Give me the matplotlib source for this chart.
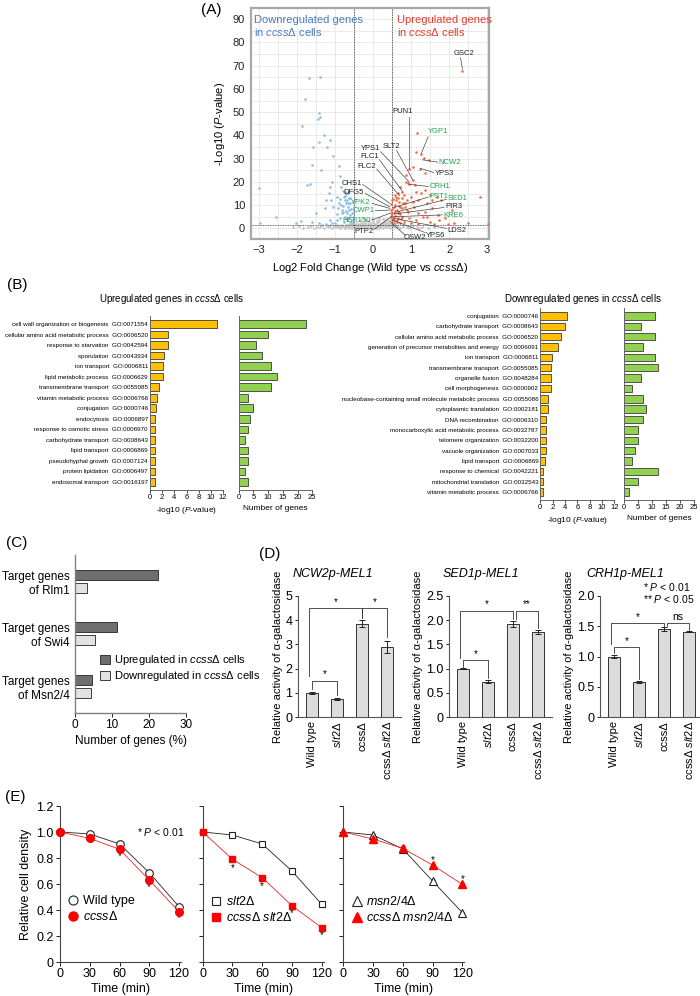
import numpy as np
import matplotlib
matplotlib.use("Agg")
import matplotlib.pyplot as plt
from matplotlib import font_manager as fm
from matplotlib.lines import Line2D
from matplotlib.patches import Patch


def tem_fonte(nome):
    try:
        fm.findfont(nome, fallback_to_default=False)
        return True
    except Exception:
        return False


FONTE = "Liberation Sans Narrow" if tem_fonte("Liberation Sans Narrow") else "Liberation Sans"
plt.rcParams["font.family"] = [FONTE, "Liberation Sans", "DejaVu Sans"]
plt.rcParams["mathtext.fontset"] = "custom"
plt.rcParams["mathtext.it"] = FONTE + ":italic"
plt.rcParams["mathtext.rm"] = FONTE

# ---------------- dados (A) volcano ----------------
down_x = [-3.01, -2.98, -2.56, -2.02, -1.90, -1.87, -1.79, -1.69, -1.40, -1.43, -1.39, -1.46,
          -1.30, -1.57, -1.43, -1.20, -1.13, -1.04, -1.61, -1.37, -1.73, -1.65, -1.07, -0.89,
          -0.87, -1.13, -1.23, -1.04, -1.49, -1.61, -1.13, -0.95, -0.83, -0.80, -0.77, -0.75,
          -0.71, -0.68, -0.65, -0.63, -0.60, -0.56, -0.54, -0.51, -0.52, -0.89, -0.92, -0.81,
          -0.74, -0.69, -0.62, -0.57, -0.54, -0.77, -0.87, -0.95, -1.01, -1.07, -1.25, -1.43,
          -0.71, -0.80, -0.87, -0.96, -0.65, -0.75, -0.60, -0.54, -0.68, -0.61, -0.82, -0.73,
          -1.15, -1.10, -1.27, -0.58, -0.66, -0.72, -0.78, -0.85, -0.53, -0.63, -0.70, -0.59]
down_y = [17.2, 2.2, 5.0, 2.2, 3.3, 44.0, 55.5, 64.6, 65.3, 49.8, 48.1, 47.2,
          40.2, 35.2, 37.3, 35.2, 38.0, 31.1, 27.3, 25.1, 18.7, 18.9, 20.1, 26.8,
          22.5, 17.9, 12.2, 9.3, 6.5, 2.9, 3.6, 6.2, 17.9, 16.2, 13.6, 12.2,
          10.8, 12.2, 9.3, 7.9, 10.8, 6.5, 5.0, 9.3, 6.5, 10.8, 8.6, 6.5,
          5.0, 3.6, 4.3, 2.9, 2.4, 2.9, 4.3, 3.6, 2.2, 2.4, 1.9, 2.2,
          7.6, 9.6, 12.5, 13.6, 15.1, 15.8, 12.9, 11.5, 6.5, 5.7, 7.9, 13.9,
          15.1, 12.2, 8.6, 8.2, 11.0, 4.6, 7.0, 9.9, 3.8, 13.2, 14.6, 2.0]
up_x = [2.35, 1.15, 1.13, 1.27, 1.35, 1.46, 1.23, 1.37, 0.95, 1.04, 0.86, 0.87, 0.93, 0.95,
        1.04, 1.11, 0.71, 0.77, 0.65, 0.60, 2.80, 2.50, 3.02, 1.67, 1.79, 2.08, 1.55, 1.70,
        1.43, 1.25, 1.19, 1.07, 0.89, 0.83, 0.71, 0.65, 0.54, 0.48, 0.51, 0.56, 0.63, 0.77,
        0.95, 1.13, 1.31, 1.49, 1.61, 1.96, 2.14, 0.60, 0.68, 0.75, 0.81, 1.01, 1.13, 1.37,
        1.49, 1.55, 0.89, 1.05, 1.19, 1.37, 0.46, 0.46, 0.49, 0.54, 0.58, 0.65, 0.70, 0.82,
        1.01, 1.19, 1.43, 1.73, 1.90, 0.47, 0.50, 0.52, 0.55, 0.57, 0.59, 0.62, 0.64, 0.67,
        0.69, 0.72, 0.74, 0.76, 0.79, 0.48, 0.53, 0.58, 0.66, 0.84, 0.92]
up_y = [67.9, 41.2, 33.0, 32.0, 30.1, 29.4, 25.4, 23.7, 25.4, 26.5, 23.0, 20.1, 19.4, 18.9,
        20.8, 18.7, 17.9, 15.8, 15.1, 12.2, 13.3, 2.2, 2.0, 13.6, 12.2, 7.9, 8.6, 5.7,
        10.8, 15.1, 12.2, 9.3, 7.9, 10.8, 9.3, 6.5, 9.3, 5.0, 12.2, 3.6, 2.9, 5.0,
        4.3, 3.6, 5.0, 2.9, 1.9, 1.9, 2.4, 13.6, 11.5, 12.9, 14.3, 13.6, 15.8, 16.5,
        14.3, 12.2, 12.2, 11.5, 6.5, 7.2, 7.9, 6.5, 3.6, 2.2, 7.6, 4.3, 2.2, 2.9,
        2.2, 1.9, 5.0, 3.6, 4.3, 5.5, 8.5, 4.6, 6.8, 10.2, 5.2, 8.1, 3.4, 7.0,
        9.8, 6.1, 4.0, 8.8, 11.0, 10.5, 12.8, 14.5, 13.0, 9.0, 6.9]
ns_x = [-2.10, -1.95, -1.85, -1.70, -1.62, -1.55, -1.48, -1.40, -1.35, -1.28, -1.22, -1.17,
        -1.12, -1.08, -1.03, -0.98, -0.94, -0.90, -0.86, -0.83, -0.80, -0.77, -0.74, -0.71,
        -0.68, -0.65, -0.62, -0.60, -0.57, -0.55, -0.52, -0.50, -0.48, -0.45, -0.43, -0.40,
        -0.38, -0.35, -0.33, -0.30, -0.28, -0.25, -0.23, -0.20, -0.18, -0.15, -0.13, -0.10,
        -0.08, -0.05, -0.03, 0.00, 0.02, 0.05, 0.07, 0.10, 0.12, 0.15, 0.17, 0.20, 0.22, 0.25,
        0.27, 0.30, 0.32, 0.35, 0.37, 0.40, 0.42, 0.45, 0.48, 0.52, 0.56, 0.60, 0.66, 0.72,
        0.80, 0.88, 0.95, 1.05, 1.15, 1.30, 1.45, 1.60, -0.30, -0.10, 0.10, 0.30, -0.20, 0.20,
        0.00, 0.40, -0.40, -0.25, 0.15, 0.35,
        -0.46, -0.41, -0.36, -0.31, -0.26, -0.21, -0.16, -0.11, -0.06, -0.01, 0.04, 0.09,
        0.14, 0.19, 0.24, 0.29, 0.34, 0.39, 0.44, -0.44, -0.34, -0.24, -0.14, -0.04, 0.06,
        0.16, 0.26, 0.36, 0.43, -0.39, -0.29, -0.19, -0.09, 0.01, 0.11, 0.21, 0.31, 0.41,
        -0.70, -0.92, -1.15, -1.38, -0.63, -0.84, -1.02, -0.58, -0.75, 0.62, 0.78, 0.98, 1.22]
ns_y = [0.4, 0.9, 0.3, 0.6, 1.1, 0.2, 0.8, 0.5, 1.3, 0.3, 0.9, 0.6,
        1.5, 0.2, 1.0, 0.5, 1.3, 0.8, 0.3, 1.6, 1.1, 0.6, 0.2, 1.4,
        0.9, 0.4, 1.7, 1.2, 0.7, 0.25, 1.5, 1.0, 0.5, 1.8, 0.15, 1.3,
        0.8, 0.35, 1.6, 1.1, 0.6, 0.2, 1.9, 1.4, 0.9, 0.45, 1.7, 1.2,
        0.7, 0.25, 1.5, 1.0, 0.5, 1.8, 0.15, 1.3, 0.8, 0.35, 1.6, 1.1, 0.6, 0.2,
        1.9, 1.4, 0.9, 0.45, 1.7, 1.2, 0.7, 0.3, 1.5, 1.0, 0.5, 1.3, 0.8, 0.3,
        1.1, 0.6, 0.2, 0.9, 0.4, 0.7, 0.3, 0.5, 2.5, 3.0, 2.7, 3.2, 2.2, 2.3,
        3.5, 2.8, 2.0, 4.1, 4.4, 3.9,
        0.6, 1.4, 0.2, 2.1, 0.9, 2.6, 0.4, 1.7, 2.4, 0.7, 1.9, 0.3,
        2.9, 0.8, 1.6, 2.2, 0.5, 1.1, 2.5, 3.1, 3.6, 1.2, 3.3, 4.6, 2.0,
        3.8, 4.2, 2.7, 1.4, 0.9, 2.0, 3.4, 1.0, 2.6, 3.0, 1.5, 2.4, 3.7,
        0.8, 1.2, 0.4, 1.0, 0.2, 0.6, 1.1, 0.9, 0.35, 0.4, 0.9, 0.6, 0.3]

# rotulos dos genes: nome, texto (x, y, ha), linha (x0, y0) -> (x1, y1)
genes = ["GSC2", "PUN1", "YGP1", "YPS1", "SLT2", "FLC1", "FLC2", "NCW2", "YPS3", "CRH1",
         "PST1", "SED1", "PIR3", "KRE6", "LDS2", "YPS6", "OSW2", "PTP2", "HSP150", "CWP1",
         "YPK2", "DFG5", "CHS1"]
genes_verdes = ["YGP1", "NCW2", "CRH1", "PST1", "SED1", "KRE6", "HSP150", "CWP1", "YPK2"]
rot_txt = [(2.12, 75.3, "left"), (0.78, 50.5, "center"), (1.43, 41.6, "left"),
           (0.18, 34.4, "right"), (0.48, 35.2, "center"), (0.15, 30.8, "right"),
           (0.08, 26.5, "right"), (1.73, 28.3, "left"), (1.63, 23.4, "left"),
           (1.49, 17.9, "left"), (1.49, 13.9, "left"), (1.96, 12.9, "left"),
           (1.90, 9.3, "left"), (1.85, 5.7, "left"), (1.96, -0.7, "left"),
           (1.39, -2.9, "left"), (0.81, -3.9, "left"), (0.00, -1.4, "right"),
           (-0.06, 3.3, "right"), (0.04, 7.6, "right"), (-0.06, 11.2, "right"),
           (-0.24, 15.4, "right"), (-0.30, 19.4, "right")]
rot_lin = [(2.30, 73.5, 2.35, 68.5), (0.95, 48.0, 0.95, 25.6), (1.45, 39.5, 1.27, 32.3),
           (0.20, 33.0, 0.95, 20.0), (0.62, 33.5, 1.04, 21.0), (0.17, 29.5, 0.77, 16.0),
           (0.10, 25.5, 0.70, 14.0), (1.70, 28.5, 1.30, 29.5), (1.60, 24.0, 1.25, 25.8),
           (1.46, 18.0, 0.95, 19.0), (1.46, 13.5, 0.55, 9.0), (1.93, 12.5, 0.60, 7.0),
           (1.87, 9.0, 0.55, 6.2), (1.82, 5.8, 0.52, 5.0), (1.93, 0.0, 0.55, 4.3),
           (1.37, -1.8, 0.50, 3.6), (0.85, -3.0, 0.45, 2.9), (0.02, -0.5, 0.48, 5.0),
           (-0.03, 3.6, 0.44, 6.5), (0.06, 7.6, 0.44, 7.9), (-0.03, 10.8, 0.44, 8.6),
           (-0.20, 15.0, 0.44, 9.3), (-0.27, 18.9, 0.44, 10.8)]

# ---------------- dados (B) GO ----------------
go_up_termos = ["cell wall organization or biogenesis", "cellular amino acid metabolic process",
                "response to starvation", "sporulation", "ion transport", "lipid metabolic process",
                "transmembrane transport", "vitamin metabolic process", "conjugation", "endocytosis",
                "response to osmotic stress", "carbohydrate transport", "lipid transport",
                "pseudohyphal growth", "protein lipidation", "endosomal transport"]
go_up_ids = ["GO:0071554", "GO:0006520", "GO:0042594", "GO:0043934", "GO:0006811", "GO:0006629",
             "GO:0055085", "GO:0006766", "GO:0000746", "GO:0006897", "GO:0006970", "GO:0008643",
             "GO:0006869", "GO:0007124", "GO:0006497", "GO:0016197"]
go_up_p = [11.0, 2.9, 2.9, 2.3, 2.1, 2.1, 1.5, 1.1, 1.0, 0.9, 0.9, 0.9, 0.9, 0.8, 0.75, 0.75]
go_up_n = [23, 10, 6, 8, 11, 13, 11, 3, 5, 4, 3, 2, 3, 3, 2, 3]

go_down_termos = ["conjugation", "carbohydrate transport", "cellular amino acid metabolic process",
                  "generation of precursor metabolites and energy", "ion transport",
                  "transmembrane transport", "organelle fusion", "cell morphogenesis",
                  "nucleobase-containing small molecule metabolic process", "cytoplasmic translation",
                  "DNA recombination", "monocarboxylic acid metabolic process", "telomere organization",
                  "vacuole organization", "lipid transport", "response to chemical",
                  "mitochondrial translation", "vitamin metabolic process"]
go_down_ids = ["GO:0000746", "GO:0008643", "GO:0006520", "GO:0006091", "GO:0006811", "GO:0055085",
               "GO:0048284", "GO:0000902", "GO:0055086", "GO:0002181", "GO:0006310", "GO:0032787",
               "GO:0032200", "GO:0007033", "GO:0006869", "GO:0042221", "GO:0032543", "GO:0006766"]
go_down_p = [4.3, 4.0, 3.3, 2.8, 1.9, 1.8, 1.7, 1.7, 1.2, 1.2, 0.95, 0.9, 0.85, 0.85, 0.7, 0.5, 0.5, 0.45]
go_down_n = [11, 6, 11, 7, 11, 12, 6, 3, 7, 8, 7, 5, 5, 4, 3, 12, 5, 2]

# ---------------- dados (C) ----------------
alvos = ["Target genes\nof Rlm1", "Target genes\nof Swi4", "Target genes\nof Msn2/4"]
alvos_up = [22.5, 11.2, 4.5]
alvos_down = [3.2, 5.4, 4.3]

# ---------------- dados (D) ----------------
cepas = ["Wild type", "$\\mathit{slt2}$Δ", "ccssΔ", "ccssΔ $\\mathit{slt2}$Δ"]
reporteres = ["NCW2p-MEL1", "SED1p-MEL1", "CRH1p-MEL1"]
mel1_media = [[1.0, 0.75, 3.85, 2.88], [1.0, 0.73, 1.92, 1.75], [1.0, 0.58, 1.45, 1.41]]
mel1_erro = [[0.04, 0.03, 0.14, 0.25], [0.01, 0.03, 0.06, 0.04], [0.03, 0.02, 0.03, 0.01]]
mel1_ylim = [5.0, 2.5, 2.0]
mel1_yticks = [[0, 1, 2, 3, 4, 5], [0, 0.5, 1.0, 1.5, 2.0, 2.5], [0, 0.5, 1.0, 1.5, 2.0]]
mel1_yrot = [["0", "1", "2", "3", "4", "5"], ["0", "0.5", "1.0", "1.5", "2.0", "2.5"],
             ["0", "0.5", "1.0", "1.5", "2.0"]]
# colchetes: x1, x2, altura, base esquerda, base direita, texto
colchetes = [
    [(0, 1, 1.5, 1.15, 0.9, "*"), (-0.12, 2, 4.5, 1.7, 4.1, "*"), (2, 3, 4.5, 4.1, 3.3, "*")],
    [(0, 1, 1.17, 1.03, 0.8, "*"), (-0.12, 2, 2.2, 1.22, 2.03, "*"), (2.12, 3, 2.2, 2.03, 1.83, "**")],
    [(0, 1, 1.15, 1.05, 0.63, "*"), (-0.12, 2, 1.55, 1.2, 1.5, "*"), (2.12, 3, 1.55, 1.5, 1.44, "ns")],
]

# ---------------- dados (E) ----------------
tempo = [0, 30, 60, 90, 120]
wt = [1.0, 0.985, 0.908, 0.687, 0.426]
ccss = [1.0, 0.951, 0.867, 0.631, 0.387]
slt2 = [1.0, 0.977, 0.908, 0.700, 0.444]
ccss_slt2 = [1.0, 0.790, 0.649, 0.433, 0.264]
msn24 = [1.0, 0.977, 0.870, 0.623, 0.380]
ccss_msn24 = [1.0, 0.946, 0.874, 0.746, 0.597]
wt_err = [0, 0.005, 0.008, 0.01, 0.012]
ccss_err = [0, 0.006, 0.01, 0.01, 0.01]
slt2_err = [0, 0.006, 0.008, 0.02, 0.02]
ccss_slt2_err = [0, 0.008, 0.015, 0.008, 0.01]
msn24_err = [0, 0.008, 0.01, 0.008, 0.006]
ccss_msn24_err = [0, 0.006, 0.015, 0.01, 0.008]
estrelas_1 = [(60, 0.815), (90, 0.574), (120, 0.336)]
estrelas_2 = [(30, 0.726), (60, 0.587), (90, 0.380), (120, 0.208)]
estrelas_3 = [(90, 0.785), (120, 0.636)]

# ---------------- figura ----------------
W, H = 700, 996
fig = plt.figure(figsize=(W / 100, H / 100), dpi=100)
fig.patch.set_facecolor("white")


def eixo(l, t, r, b):
    return fig.add_axes([l / W, 1 - b / H, (r - l) / W, (b - t) / H])


def texto(x, y, s, **kw):
    kw.setdefault("va", "center")
    return fig.text(x / W, 1 - y / H, s, **kw)


def spines_lb(ax, cor="#555555", lw=0.8):
    ax.spines["top"].set_visible(False)
    ax.spines["right"].set_visible(False)
    ax.spines["left"].set_color(cor)
    ax.spines["bottom"].set_color(cor)
    ax.spines["left"].set_linewidth(lw)
    ax.spines["bottom"].set_linewidth(lw)


# --- (A) ---
axA = eixo(250.6, 8.3, 489.4, 239.3)
axA.set_xlim(-3.22, 3.06)
axA.set_ylim(-4.7, 94.7)
axA.set_xticks(range(-3, 4))
axA.set_yticks(range(0, 100, 10))
axA.set_xticks(np.arange(-3, 3.01, 0.5), minor=True)
axA.set_yticks(range(0, 95, 5), minor=True)
axA.grid(True, which="both", color="#e6e6e6", lw=0.6)
axA.set_axisbelow(True)
axA.tick_params(which="both", length=0, labelsize=8, pad=4, colors="#222222")
for sp in axA.spines.values():
    sp.set_color("#a8a8a8")
    sp.set_linewidth(1.6)
axA.scatter(ns_x, ns_y, s=4, c="#c9c9c9", lw=0, zorder=2)
axA.scatter(down_x, down_y, s=3.5, c="#8cbde3", lw=0, zorder=3)
axA.scatter(up_x, up_y, s=3.5, c="#f06c4a", lw=0, zorder=3)
axA.axvline(-0.5, ls=(0, (1, 1)), c="#333333", lw=0.6, zorder=2)
axA.axvline(0.5, ls=(0, (1, 1)), c="#333333", lw=0.6, zorder=2)
axA.axhline(1.3, ls=(0, (1, 1)), c="#333333", lw=0.6, zorder=2)
for nome, (tx, ty, ha), (x0, y0, x1, y1) in zip(genes, rot_txt, rot_lin):
    cor = "#1fa34a" if nome in genes_verdes else "#222222"
    axA.plot([x0, x1], [y0, y1], c="#333333", lw=0.45, zorder=4)
    axA.text(tx, ty, nome, fontsize=5.5, color=cor, ha=ha, va="center", zorder=5)
axA.text(-3.12, 92, "Downregulated genes\nin $\\mathit{ccss}$Δ cells", color="#4a7cc0",
         fontsize=8, va="top", ha="left", linespacing=1.1)
axA.text(0.63, 92, "Upregulated genes\nin $\\mathit{ccss}$Δ cells", color="#e8392b",
         fontsize=8, va="top", ha="left", linespacing=1.1)
texto(370, 268, "Log2 Fold Change (Wild type vs $\\mathit{ccss}$Δ)", ha="center", fontsize=8)
texto(220, 124, "-Log10 ($\\mathit{P}$-value)", ha="center", rotation=90, fontsize=8)
texto(211, 10, "(A)", ha="center", fontsize=11)


# --- (B) ---
def grafico_go(l_p, r_p, l_n, r_n, topo, base, termos, ids, pv, ng):
    n = len(termos)
    ax_p = eixo(l_p, topo, r_p, base)
    ax_n = eixo(l_n, topo, r_n, base)
    pos = np.arange(n)
    ax_p.barh(pos, pv, height=0.72, color="#ffc000", edgecolor="#3a3a3a", lw=0.6)
    ax_n.barh(pos, ng, height=0.72, color="#92d050", edgecolor="#3a3a3a", lw=0.6)
    for ax in (ax_p, ax_n):
        ax.set_ylim(n - 1 + 0.76, -0.76)
        spines_lb(ax, "#666666", 0.7)
        ax.tick_params(axis="x", labelsize=5.5, length=2, width=0.5, pad=1)
        ax.tick_params(axis="y", length=0, pad=1.5)
    ax_p.set_xlim(0, 12)
    ax_p.set_xticks(range(0, 13, 2))
    ax_n.set_xlim(0, 25)
    ax_n.set_xticks(range(0, 26, 5))
    ax_p.set_yticks(pos)
    ax_p.set_yticklabels([t + "  " + g for t, g in zip(termos, ids)], fontsize=4.5)
    ax_n.set_yticks([])
    ax_p.set_xlabel("-log10 ($\\mathit{P}$-value)", fontsize=6, labelpad=3)
    ax_n.set_xlabel("Number of genes", fontsize=6, labelpad=3)


grafico_go(150, 223, 238.7, 312.3, 316, 490, go_up_termos, go_up_ids, go_up_p, go_up_n)
grafico_go(540.3, 614.3, 623.7, 694.3, 308, 500, go_down_termos, go_down_ids, go_down_p, go_down_n)
texto(172, 299, "Upregulated genes in $\\mathit{ccss}$Δ cells", ha="center", fontsize=7)
texto(583, 299, "Downregulated genes in $\\mathit{ccss}$Δ cells", ha="center", fontsize=7)
texto(17, 285, "(B)", ha="center", fontsize=11)

# --- (C) ---
axC = eixo(75.3, 555, 185.8, 712.7)
posC = np.arange(len(alvos))
axC.barh(posC - 0.125, alvos_up, height=0.19, color="#6e6e6e", edgecolor="#222222", lw=0.6)
axC.barh(posC + 0.125, alvos_down, height=0.19, color="#e2e2e2", edgecolor="#222222", lw=0.6)
axC.set_ylim(2.5, -0.5)
axC.set_xlim(0, 30)
axC.set_xticks([0, 10, 20, 30])
axC.set_yticks(posC)
axC.set_yticklabels(alvos, fontsize=8.5)
for lb in axC.get_yticklabels():
    lb.set_multialignment("right")
axC.tick_params(axis="y", length=0, pad=4)
axC.tick_params(axis="x", labelsize=8.5, length=3, width=0.6, pad=1.5)
spines_lb(axC, "#808080", 1.0)
axC.set_xlabel("Number of genes (%)", fontsize=8.5, labelpad=3)
fig.legend(handles=[Patch(facecolor="#6e6e6e", edgecolor="#222222", lw=0.6,
                          label="Upregulated in $\\mathit{ccss}$Δ cells"),
                    Patch(facecolor="#e2e2e2", edgecolor="#222222", lw=0.6,
                          label="Downregulated in $\\mathit{ccss}$Δ cells")],
           loc="upper left", bbox_to_anchor=(100 / W, 1 - 653 / H), frameon=False, fontsize=8,
           handlelength=0.9, handleheight=0.9, handletextpad=0.4, labelspacing=0.2,
           borderpad=0, borderaxespad=0)
texto(17, 543, "(C)", ha="center", fontsize=11)

# --- (D) ---
esq_D = [298, 449, 600]
centros_tit = [333, 481, 625]
for k in range(3):
    ax = eixo(esq_D[k], 596, esq_D[k] + 103, 717)
    xs = np.arange(len(cepas))
    ax.bar(xs, mel1_media[k], width=0.45, color="#dcdcdc", edgecolor="#333333", lw=0.7,
           yerr=mel1_erro[k], error_kw=dict(ecolor="#222222", elinewidth=0.7, capsize=2, capthick=0.7))
    ax.set_xlim(-0.56, 3.56)
    ax.set_ylim(0, mel1_ylim[k])
    ax.set_yticks(mel1_yticks[k])
    ax.set_yticklabels(mel1_yrot[k])
    ax.set_xticks(xs)
    ax.set_xticklabels(cepas, rotation=90, fontsize=8)
    ax.tick_params(axis="x", length=0, pad=3)
    ax.tick_params(axis="y", labelsize=9, length=2.5, width=0.6, pad=1.5)
    spines_lb(ax, "#555555", 0.8)
    ax.set_ylabel("Relative activity of α-galactosidase", fontsize=8, labelpad=2)
    for x1, x2, h, b1, b2, s in colchetes[k]:
        ax.plot([x1, x1, x2, x2], [b1, h, h, b2], c="#333333", lw=0.6)
        ax.text((x1 + x2) / 2, h + mel1_ylim[k] * 0.01, s, ha="center", va="bottom",
                fontsize=7 if s != "ns" else 7.5)
    texto(centros_tit[k], 574, reporteres[k], ha="center", fontsize=9, fontstyle="italic")
texto(643, 587, "* $\\mathit{P}$ < 0.01", ha="left", fontsize=7.5)
texto(643, 599, "** $\\mathit{P}$ < 0.05", ha="left", fontsize=7.5)
texto(270, 554, "(D)", ha="center", fontsize=11)

# --- (E) ---
esq_E = [60, 202.7, 343.3]
series_E = [
    (wt, wt_err, ccss, ccss_err, "o", "Wild type", "$\\mathit{ccss}$Δ", estrelas_1),
    (slt2, slt2_err, ccss_slt2, ccss_slt2_err, "s", "$\\mathit{slt2}$Δ",
     "$\\mathit{ccss}$Δ $\\mathit{slt2}$Δ", estrelas_2),
    (msn24, msn24_err, ccss_msn24, ccss_msn24_err, "^", "$\\mathit{msn2/4}$Δ",
     "$\\mathit{ccss}$Δ $\\mathit{msn2/4}$Δ", estrelas_3),
]
for k, (ctl, ctl_e, mut, mut_e, mk, lab1, lab2, estrelas) in enumerate(series_E):
    ax = eixo(esq_E[k], 806, esq_E[k] + 121, 962)
    ms = 5.5 if mk != "s" else 5
    ax.errorbar(tempo, ctl, yerr=ctl_e, color="#222222", lw=0.6, marker=mk, ms=ms,
                mfc="white", mec="#222222", mew=0.8, capsize=1.5, elinewidth=0.6,
                clip_on=False, zorder=3)
    ax.errorbar(tempo, mut, yerr=mut_e, color="#ee2222", lw=0.6, marker=mk, ms=ms,
                mfc="#ff0000", mec="#ff0000", ecolor="#222222", capsize=1.5, elinewidth=0.6,
                clip_on=False, zorder=4)
    for tx, ty in estrelas:
        ax.text(tx, ty, "*", ha="center", va="center", fontsize=7)
    ax.set_xlim(0, 122)
    ax.set_ylim(0, 1.2)
    ax.set_xticks(tempo)
    ax.set_yticks([0, 0.2, 0.4, 0.6, 0.8, 1.0, 1.2])
    if k == 0:
        ax.set_yticklabels(["0", "0.2", "0.4", "0.6", "0.8", "1.0", "1.2"])
        ax.set_ylabel("Relative cell density", fontsize=9, labelpad=3)
    else:
        ax.set_yticklabels([])
    ax.tick_params(labelsize=9, length=3, width=0.6, pad=1.5)
    spines_lb(ax, "#444444", 0.8)
    ax.set_xlabel("Time (min)", fontsize=9, labelpad=2)
    alcas = [Line2D([], [], ls="none", marker=mk, ms=ms + 1, mfc="white", mec="#222222", mew=0.8),
             Line2D([], [], ls="none", marker=mk, ms=ms + 1, mfc="#ff0000", mec="#ff0000")]
    ax.legend(alcas, [lab1, lab2], loc="upper left", bbox_to_anchor=(0.07, 0.43),
              frameon=False, fontsize=9, handlelength=0.8, handletextpad=0.35,
              labelspacing=0.25, borderpad=0, borderaxespad=0)
texto(137, 832, "* $\\mathit{P}$ < 0.01", ha="left", fontsize=7.5)
texto(15, 797, "(E)", ha="center", fontsize=11)

fig.savefig("out.png", dpi=100, facecolor="white")
